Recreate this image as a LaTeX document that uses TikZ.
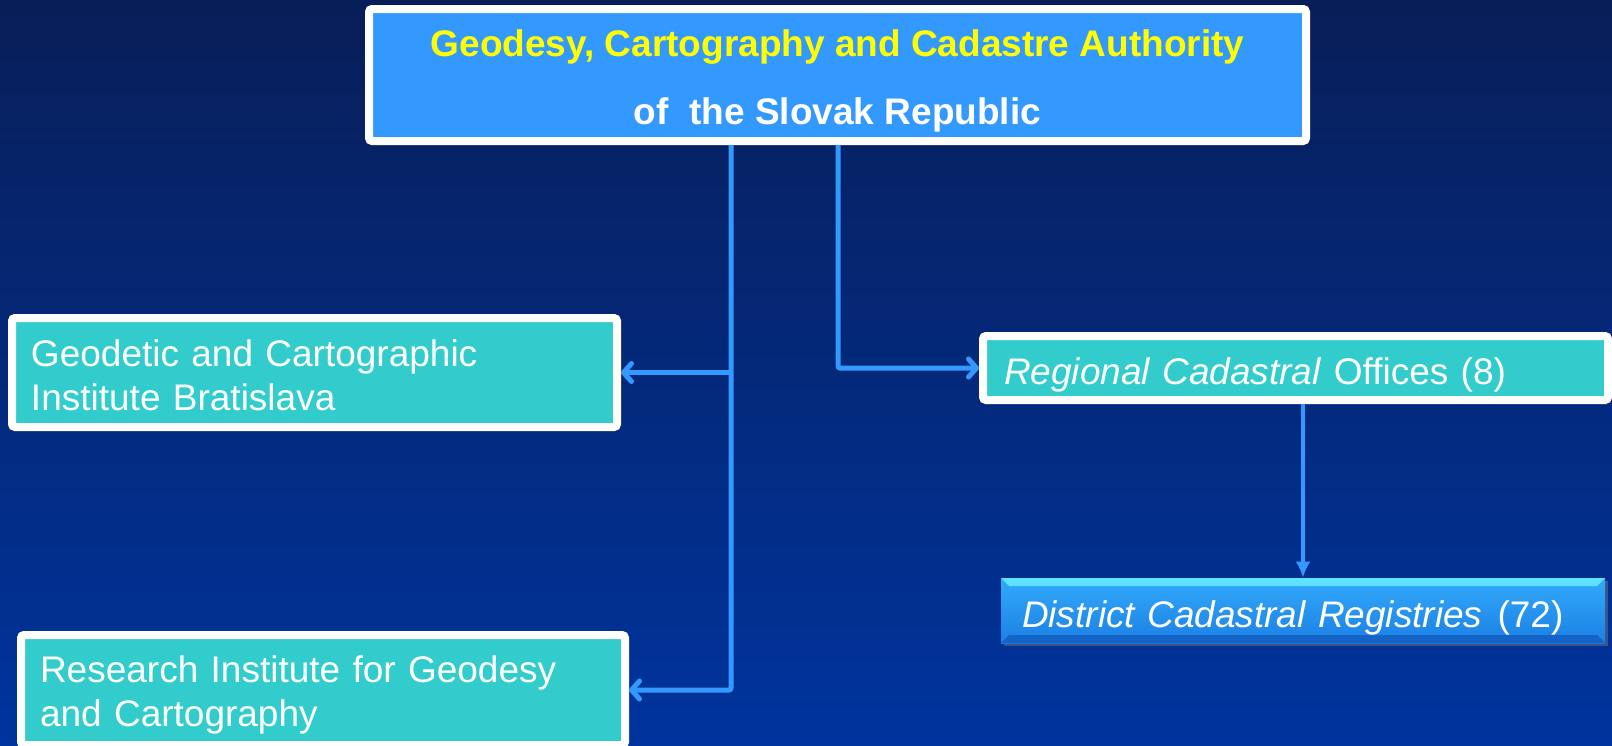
\documentclass[tikz,border=0pt]{standalone}
\usepackage{fontspec}
\setmainfont{Liberation Sans}
\usetikzlibrary{arrows.meta,positioning,shadows}
\definecolor{bgtop}{RGB}{8,30,88}
\definecolor{bgbottom}{RGB}{0,52,158}
\definecolor{headblue}{RGB}{51,153,255}
\definecolor{boxteal}{RGB}{51,204,204}
\definecolor{linkblue}{RGB}{51,153,255}
\definecolor{titleyellow}{RGB}{255,255,0}
\definecolor{regtop}{RGB}{50,170,250}
\definecolor{regbottom}{RGB}{28,128,228}
\definecolor{bevellight}{RGB}{95,225,255}
\definecolor{beveldark}{RGB}{20,100,200}
\tikzset{
    whitebox/.style={rectangle,draw=white,line width=4pt,rounded corners=1.5pt,
        text=white,font=\fontsize{18.5}{22}\selectfont,
        drop shadow={opacity=0.35,shadow xshift=1.5pt,shadow yshift=-1.5pt}},
    officebox/.style={whitebox,fill=boxteal,align=left,inner xsep=9.5pt},
    oneline/.style={text height=16.8pt,text depth=0pt},
    registrybox/.style={rectangle,top color=regtop,bottom color=regbottom,
        text=white,font=\fontsize{18.5}{22}\selectfont,align=left,inner xsep=10.5pt,
        drop shadow={opacity=0.45,shadow xshift=1.5pt,shadow yshift=-1.5pt},
        path picture={
            \fill[bevellight] (path picture bounding box.north west) -- (path picture bounding box.north east)
                -- ([xshift=-4pt,yshift=-4pt]path picture bounding box.north east)
                -- ([xshift=4pt,yshift=-4pt]path picture bounding box.north west) -- cycle;
            \fill[beveldark] (path picture bounding box.south west) -- (path picture bounding box.south east)
                -- ([xshift=-4pt,yshift=4pt]path picture bounding box.south east)
                -- ([xshift=4pt,yshift=4pt]path picture bounding box.south west) -- cycle;
        }},
    link/.style={linkblue,line width=2.5pt,rounded corners=1pt,
        -{Straight Barb[length=4pt,width=9pt,round]}},
    downlink/.style={linkblue,line width=2pt,-{Latex[length=8pt,width=7.5pt]}}
}

\begin{document}
\begin{tikzpicture}[x=0.5pt,y=-0.5pt]
    \useasboundingbox (0,0) rectangle (1612,745);
    \fill[top color=bgtop,bottom color=bgbottom] (0,0) rectangle (1612,745);

    % authority
    \node[whitebox,fill=headblue,font=\bfseries\fontsize{18.5}{22}\selectfont,align=center,
        minimum width=468.5pt,minimum height=66pt] (authority) at (837.5,75)
        {\rule{0pt}{19pt}\textcolor{titleyellow}{Geodesy, Cartography and Cadastre Authority}\\[12pt]
         of\ \ the Slovak Republic};

    % institutes
    \node[officebox,minimum width=302.5pt,minimum height=54.5pt,text width=283.5pt]
        (gki) at (314.5,372.5) {\rule{0pt}{16pt}Geodetic and Cartographic\\Institute Bratislava};
    \node[officebox,minimum width=302pt,minimum height=55pt,text width=283pt]
        (vugk) at (323,690) {\rule{0pt}{18.5pt}Research Institute for Geodesy\\and Cartography};

    % cadastre
    \node[officebox,oneline,inner xsep=10.5pt,minimum width=312.5pt,minimum height=32pt,text width=291.5pt]
        (regional) at (1295.5,368) {\textit{Regional Cadastral} Offices (8)};
    \node[registrybox,oneline,minimum width=302pt,minimum height=32.5pt,text width=281pt]
        (district) at (1303,610.5) {\textit{District Cadastral Registries}\hspace{7.5pt}(72)};

    \coordinate (trunk) at (731,0);
    \coordinate (branch) at (838,0);

    \draw[link] (trunk |- authority.south) |- (vugk.east);
    \draw[link] (trunk |- gki.east) -- (gki.east);
    \draw[link] (branch |- authority.south) |- (regional.west);
    \draw[downlink] (regional.south -| district.north) -- (district.north);
\end{tikzpicture}
\end{document}
